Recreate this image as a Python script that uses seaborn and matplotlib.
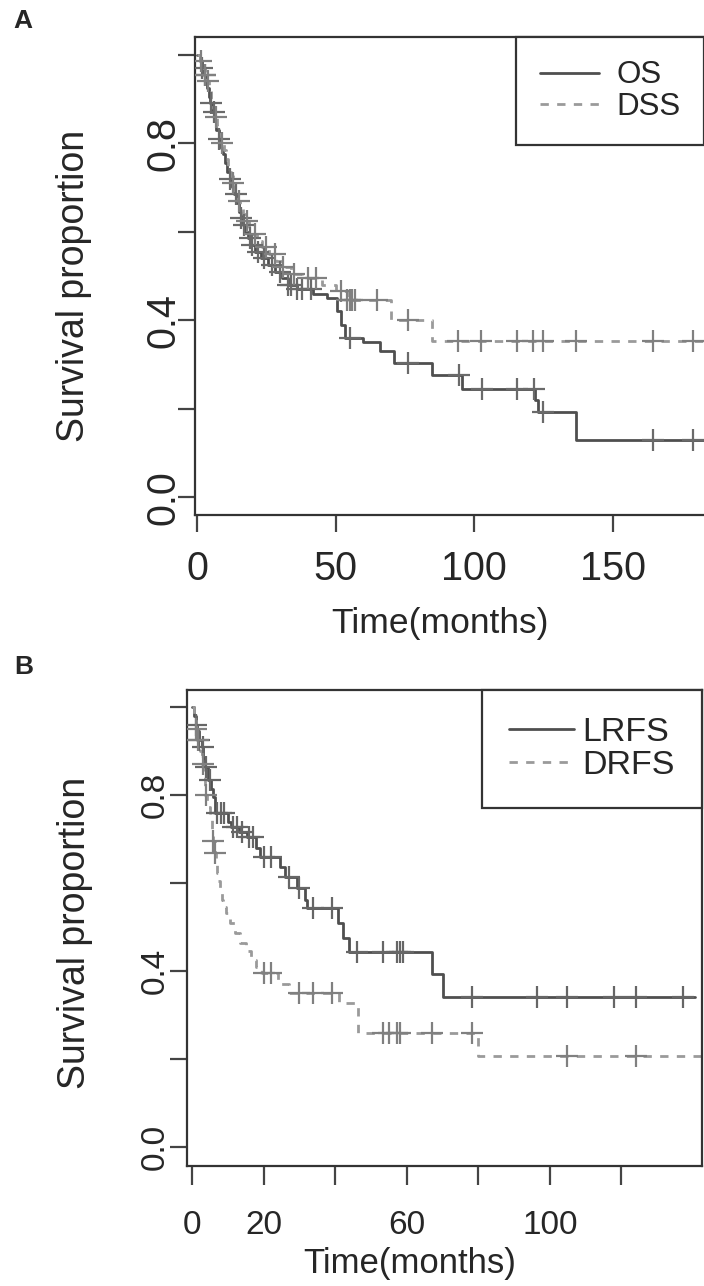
import numpy as np
import matplotlib
matplotlib.use("Agg")
import matplotlib.pyplot as plt
import seaborn as sns

sns.set_style("ticks")
plt.rcParams["font.family"] = ["Liberation Sans", "DejaVu Sans"]

# ---- panel A: overall / disease-specific survival ----
os_time = [0, 1, 1.8, 2.5, 3.2, 3.8, 4.3, 4.8, 5.5, 6.3, 7, 7.8, 8.6, 9.4, 10.2, 11, 11.8,
           12.6, 13.4, 14.2, 15, 15.8, 16.6, 17.4, 18.5, 19.6, 21, 23, 25.5, 28, 30.5, 33,
           36, 42, 47, 50.5, 52, 53.5, 60, 66, 71, 84.7, 95.5, 121.8, 123, 136.6, 185]
os_surv = [1.0, 0.985, 0.97, 0.955, 0.94, 0.925, 0.905, 0.89, 0.87, 0.85, 0.83, 0.81, 0.79,
           0.775, 0.755, 0.735, 0.72, 0.70, 0.685, 0.665, 0.645, 0.63, 0.615, 0.60, 0.585,
           0.57, 0.555, 0.54, 0.525, 0.51, 0.495, 0.48, 0.47, 0.46, 0.45, 0.42, 0.39, 0.36,
           0.35, 0.33, 0.303, 0.276, 0.244, 0.22, 0.192, 0.129, 0.129]
os_cens = [2, 3, 5, 6, 8, 12, 14, 16, 17, 19, 20, 22, 24, 27, 30, 33, 34, 36, 38, 41, 55,
           76, 94.5, 102.7, 115.4, 121.5, 124.7, 164.4, 178.8]

dss_time = [0, 1.2, 2, 2.8, 3.5, 4.2, 5, 5.8, 6.5, 7.3, 8, 8.8, 9.6, 10.5, 11.3, 12.2, 13,
            13.8, 14.8, 15.6, 16.5, 17.5, 18.6, 20, 21.5, 23.5, 26, 28.5, 31, 34, 38, 45,
            50, 54, 70, 84.7, 185]
dss_surv = [1.0, 0.985, 0.97, 0.955, 0.94, 0.92, 0.90, 0.88, 0.86, 0.84, 0.82, 0.80, 0.785,
            0.765, 0.745, 0.725, 0.71, 0.69, 0.67, 0.655, 0.64, 0.625, 0.61, 0.595, 0.58,
            0.565, 0.55, 0.535, 0.52, 0.505, 0.495, 0.48, 0.465, 0.446, 0.40, 0.353, 0.353]
dss_cens = [1.5, 3, 4, 7, 9, 13, 15, 18, 21, 25, 28, 31, 35, 40, 43, 52, 54, 55, 56, 57, 65,
            76, 94, 102.4, 115.4, 121, 124.7, 136.6, 164.4, 178.8]

# ---- panel B: local / distant recurrence-free survival ----
lrfs_time = [0, 0.5, 1, 1.5, 2, 2.8, 3.2, 3.6, 4.5, 5.2, 5.9, 6.5, 10, 11, 13, 15.4, 18, 19,
             24.6, 26, 29.3, 31.6, 32.1, 40.8, 42.2, 44, 67, 70, 140.5]
lrfs_surv = [1.0, 0.98, 0.96, 0.945, 0.925, 0.91, 0.885, 0.864, 0.834, 0.815, 0.795, 0.759,
             0.74, 0.727, 0.716, 0.705, 0.68, 0.66, 0.637, 0.614, 0.589, 0.561, 0.543, 0.509,
             0.475, 0.443, 0.393, 0.341, 0.341]
lrfs_cens = [1, 2, 3, 4, 5, 7, 8, 9, 11.5, 12.5, 14, 16, 17, 20, 22, 27, 30, 33.8, 39, 46,
             53.4, 57.3, 58, 59, 78.2, 96.4, 104.7, 117.9, 124, 137.2]

drfs_time = [0, 0.5, 1, 1.5, 2.2, 2.8, 3.1, 3.6, 4.2, 5, 5.5, 5.9, 6.3, 6.7, 7, 7.4, 7.8,
             8.3, 8.7, 9.5, 10.6, 12, 13.5, 15, 16.5, 18, 19.5, 24, 27, 41, 46.4, 80, 143]
drfs_surv = [1.0, 0.975, 0.95, 0.925, 0.90, 0.87, 0.85, 0.80, 0.773, 0.745, 0.72, 0.695,
             0.668, 0.645, 0.623, 0.605, 0.585, 0.561, 0.545, 0.532, 0.509, 0.486, 0.465,
             0.445, 0.425, 0.41, 0.395, 0.37, 0.35, 0.327, 0.26, 0.207, 0.207]
drfs_cens = [1.2, 1.8, 3, 4, 6, 6.5, 20, 22, 30, 33.8, 39, 53.4, 55, 57.3, 58, 67, 78.2,
             104.7, 124]


def surv_at(times, surv, t):
    idx = np.searchsorted(np.asarray(times), np.asarray(t), side="right") - 1
    return np.asarray(surv)[idx]


def km(ax, times, surv, cens, label, color, mark_color, dashed=False):
    sns.lineplot(x=times, y=surv, ax=ax, drawstyle="steps-post", color=color,
                 lw=2.0, label=label, sort=False)
    if dashed:
        ax.lines[-1].set_dashes([3, 3])
    sns.scatterplot(x=cens, y=surv_at(times, surv, cens), ax=ax, marker="+", s=260,
                    color=mark_color, linewidth=1.6, zorder=3)


def style(ax, tick_fs, xlen, xpad, ypad):
    for s in ax.spines.values():
        s.set_color("#333333")
        s.set_linewidth(1.6)
    ax.tick_params(axis="x", direction="out", length=xlen, width=1.6, color="#444444",
                   labelsize=tick_fs, pad=xpad)
    ax.tick_params(axis="y", direction="out", length=12, width=1.6, color="#444444",
                   labelsize=tick_fs, pad=ypad, labelrotation=90)
    ax.set_yticks([0, 0.2, 0.4, 0.6, 0.8, 1.0])
    ax.set_yticklabels(["0.0", "", "0.4", "", "0.8", ""], va="center")


fig = plt.figure(figsize=(7.04, 12.86), dpi=100)
W, H = 704, 1286
axA = fig.add_axes([195 / W, 1 - 515 / H, (704 - 195) / W, (515 - 37) / H])
axB = fig.add_axes([187 / W, 1 - 1166 / H, (702 - 187) / W, (1166 - 690) / H])

km(axA, os_time, os_surv, os_cens, "OS", "#4f4f4f", "#6a6a6a")
km(axA, dss_time, dss_surv, dss_cens, "DSS", "#9a9a9a", "#808080", dashed=True)
km(axB, lrfs_time, lrfs_surv, lrfs_cens, "LRFS", "#4f4f4f", "#666666")
km(axB, drfs_time, drfs_surv, drfs_cens, "DRFS", "#9a9a9a", "#808080", dashed=True)

axA.set_xlim(-0.7, 182.8)
axA.set_ylim(-0.04, 1.04)
axA.set_xticks([0, 50, 100, 150])
axA.spines["right"].set_visible(False)
style(axA, 28.5, 12, 13, -3)

axB.set_xlim(-1.4, 142.5)
axB.set_ylim(-0.043, 1.039)
axB.set_xticks([0, 20, 40, 60, 80, 100, 120])
axB.set_xticklabels(["0", "20", "", "60", "", "100", ""])
style(axB, 24, 14, 18, 0)

axA.set_xlabel("Time(months)", fontsize=25.5, va="top")
axA.xaxis.set_label_coords(0.481, -0.1925)
axA.set_ylabel("Survival proportion", fontsize=27, va="center")
axA.yaxis.set_label_coords(-0.238, 0.48)

axB.set_xlabel("Time(months)", fontsize=25, va="top")
axB.xaxis.set_label_coords(0.433, -0.170)
axB.set_ylabel("Survival proportion", fontsize=27, va="center")
axB.yaxis.set_label_coords(-0.218, 0.49)

for ax, fs, tp, bp in [(axA, 22.5, 0.55, 0.75), (axB, 24.5, 0.25, 0.8)]:
    leg = ax.legend(loc="upper right", frameon=True, fancybox=False, fontsize=fs,
                    borderaxespad=0, handlelength=1.9, handletextpad=tp,
                    borderpad=bp, labelspacing=0.05, framealpha=1)
    leg.get_frame().set_edgecolor("#333333")
    leg.get_frame().set_linewidth(1.6)

fig.text(23 / W, 1 - 21 / H, "A", fontsize=19, fontweight="bold", ha="center", va="center")
fig.text(24 / W, 1 - 667 / H, "B", fontsize=19, fontweight="bold", ha="center", va="center")

fig.savefig("out.png", dpi=100)
